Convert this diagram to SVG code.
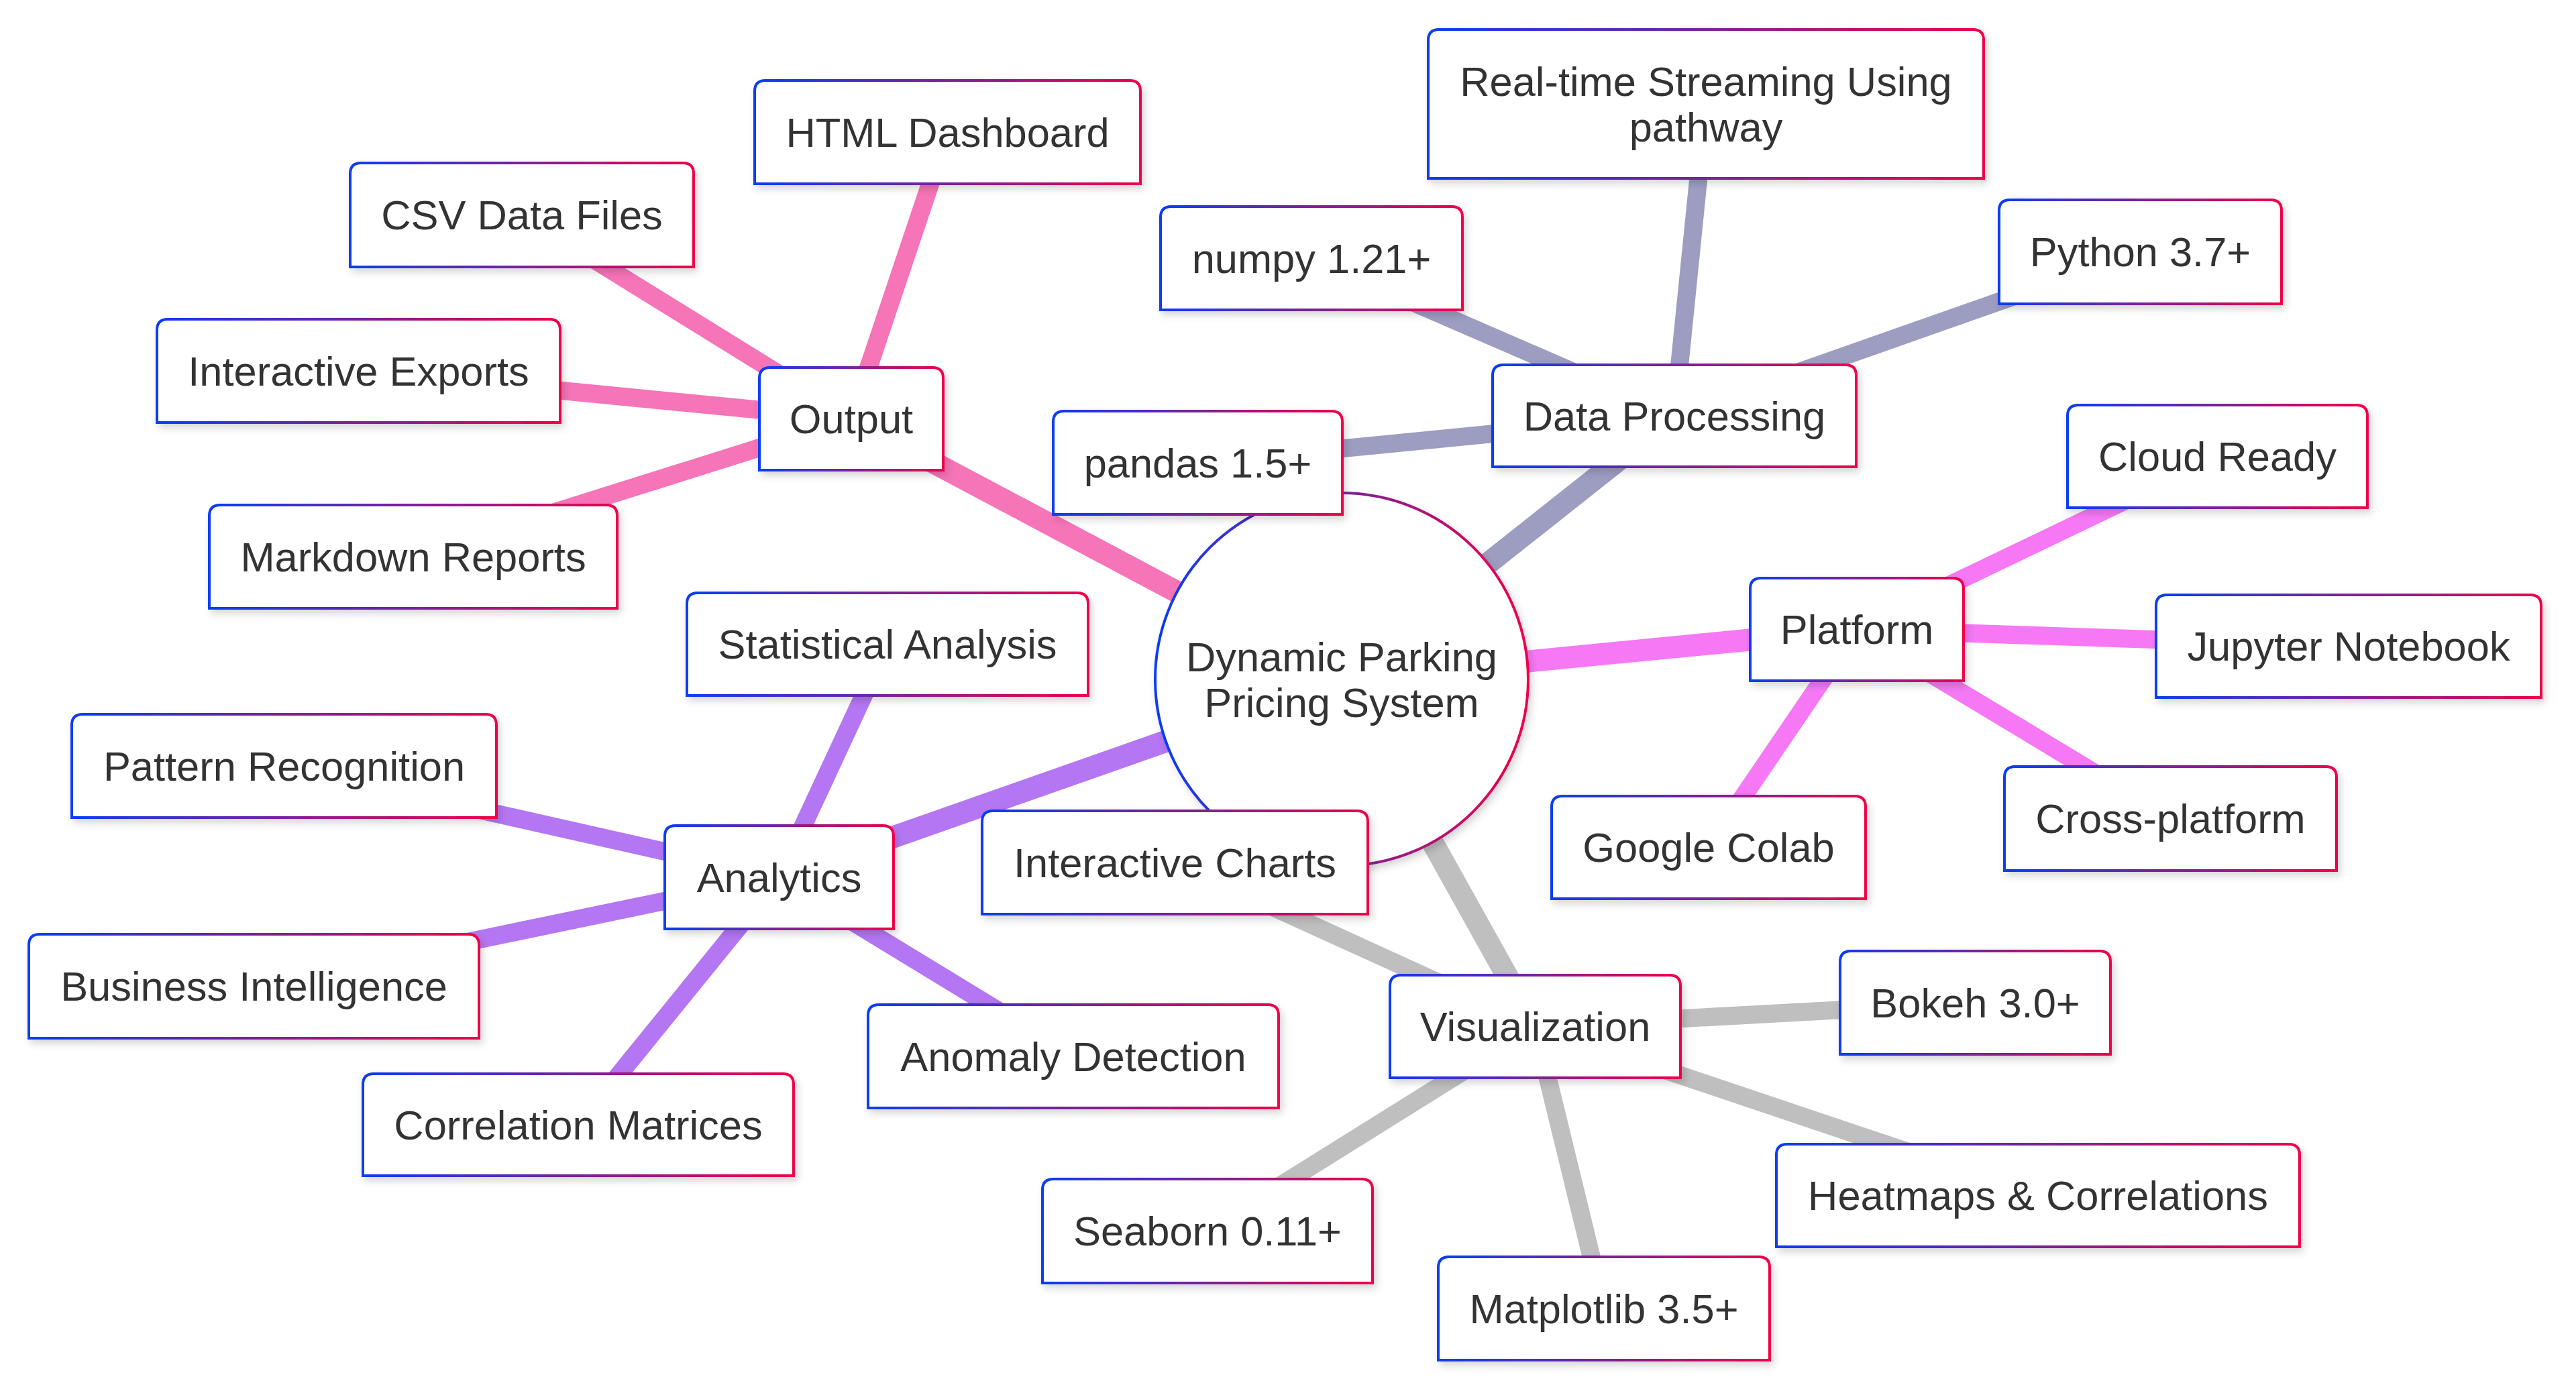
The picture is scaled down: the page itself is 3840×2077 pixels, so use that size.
<svg xmlns="http://www.w3.org/2000/svg" width="3840" height="2077" viewBox="0 0 3840 2077">
<defs>
<linearGradient id="bd" x1="0" y1="0" x2="1" y2="0">
<stop offset="0" stop-color="#0a3cf5"/>
<stop offset="0.5" stop-color="#7a2299"/>
<stop offset="1" stop-color="#f0004a"/>
</linearGradient>
<filter id="sh" x="-10%" y="-15%" width="125%" height="140%">
<feDropShadow dx="4" dy="6" stdDeviation="6" flood-color="#000" flood-opacity="0.16"/>
</filter>
<style>
.n path, .n circle { fill: #fff; stroke: url(#bd); stroke-width: 4; filter: url(#sh); }
.n text { font-family: "Liberation Sans", Arial, sans-serif; font-size: 61.4px; fill: #333; text-anchor: middle; }
.e line { stroke-linecap: butt; fill: none; }
.d0 { stroke-width: 33; }
.d1 { stroke-width: 27; }
.c-out { stroke: #f674b8; }
.c-dp { stroke: #9d9dc2; }
.c-pl { stroke: #f678f5; }
.c-an { stroke: #b476f2; }
.c-vi { stroke: #bfbfbf; }
</style>
</defs>
<rect width="3840" height="2077" fill="#fff"/>
<g id="connectors" class="e">
<line class="d0 c-out" x1="2000" y1="1013" x2="1269" y2="624.5"/>
<line class="d0 c-dp" x1="2000" y1="1013" x2="2496" y2="620"/>
<line class="d0 c-pl" x1="2000" y1="1013" x2="2768" y2="938.5"/>
<line class="d0 c-an" x1="2000" y1="1013" x2="1161.5" y2="1308"/>
<line class="d0 c-vi" x1="2000" y1="1013" x2="2288.5" y2="1530.5"/>
<line class="d1 c-out" x1="1269" y1="624.5" x2="1412.5" y2="197"/>
<line class="d1 c-out" x1="1269" y1="624.5" x2="778" y2="320.5"/>
<line class="d1 c-out" x1="1269" y1="624.5" x2="534.5" y2="553"/>
<line class="d1 c-out" x1="1269" y1="624.5" x2="616" y2="830"/>
<line class="d1 c-dp" x1="2496" y1="620" x2="2543" y2="155"/>
<line class="d1 c-dp" x1="2496" y1="620" x2="1955" y2="385"/>
<line class="d1 c-dp" x1="2496" y1="620" x2="3190.5" y2="375.5"/>
<line class="d1 c-dp" x1="2496" y1="620" x2="1785.5" y2="690"/>
<line class="d1 c-pl" x1="2768" y1="938.5" x2="3305.5" y2="680.5"/>
<line class="d1 c-pl" x1="2768" y1="938.5" x2="3501" y2="963.5"/>
<line class="d1 c-pl" x1="2768" y1="938.5" x2="3235.5" y2="1220.5"/>
<line class="d1 c-pl" x1="2768" y1="938.5" x2="2547" y2="1263.5"/>
<line class="d1 c-an" x1="1161.5" y1="1308" x2="1323" y2="960.5"/>
<line class="d1 c-an" x1="1161.5" y1="1308" x2="423.5" y2="1142"/>
<line class="d1 c-an" x1="1161.5" y1="1308" x2="378.5" y2="1470.5"/>
<line class="d1 c-an" x1="1161.5" y1="1308" x2="862" y2="1677"/>
<line class="d1 c-an" x1="1161.5" y1="1308" x2="1600" y2="1575"/>
<line class="d1 c-vi" x1="2288.5" y1="1530.5" x2="1751.5" y2="1286"/>
<line class="d1 c-vi" x1="2288.5" y1="1530.5" x2="2944.5" y2="1495"/>
<line class="d1 c-vi" x1="2288.5" y1="1530.5" x2="3038" y2="1782.5"/>
<line class="d1 c-vi" x1="2288.5" y1="1530.5" x2="1800" y2="1835.5"/>
<line class="d1 c-vi" x1="2288.5" y1="1530.5" x2="2391" y2="1951"/>
</g>
<g id="root" class="n"><circle cx="2000" cy="1013" r="278"/><text x="2000" y="1001">Dynamic Parking</text><text x="2000" y="1069">Pricing System</text></g>
<g id="output" class="n"><path d="M1132 701 V564 Q1132 548 1148 548 H1390 Q1406 548 1406 564 V701 Z"/><text x="1269" y="646">Output</text></g>
<g id="html-dashboard" class="n"><path d="M1125 274 V136 Q1125 120 1141 120 H1684 Q1700 120 1700 136 V274 Z"/><text x="1412.5" y="219">HTML Dashboard</text></g>
<g id="csv-data-files" class="n"><path d="M522 398 V259 Q522 243 538 243 H1018 Q1034 243 1034 259 V398 Z"/><text x="778" y="342">CSV Data Files</text></g>
<g id="interactive-exports" class="n"><path d="M234 630 V492 Q234 476 250 476 H819 Q835 476 835 492 V630 Z"/><text x="534.5" y="575">Interactive Exports</text></g>
<g id="markdown-reports" class="n"><path d="M312 907 V769 Q312 753 328 753 H904 Q920 753 920 769 V907 Z"/><text x="616" y="852">Markdown Reports</text></g>
<g id="data-processing" class="n"><path d="M2225 696 V560 Q2225 544 2241 544 H2751 Q2767 544 2767 560 V696 Z"/><text x="2496" y="642">Data Processing</text></g>
<g id="realtime-streaming" class="n"><path d="M2129 266 V60 Q2129 44 2145 44 H2941 Q2957 44 2957 60 V266 Z"/><text x="2543" y="143">Real-time Streaming Using</text><text x="2543" y="211">pathway</text></g>
<g id="numpy" class="n"><path d="M1730 462 V324 Q1730 308 1746 308 H2164 Q2180 308 2180 324 V462 Z"/><text x="1955" y="407">numpy 1.21+</text></g>
<g id="python" class="n"><path d="M2980 453 V314 Q2980 298 2996 298 H3385 Q3401 298 3401 314 V453 Z"/><text x="3190.5" y="397">Python 3.7+</text></g>
<g id="pandas" class="n"><path d="M1570 767 V629 Q1570 613 1586 613 H1985 Q2001 613 2001 629 V767 Z"/><text x="1785.5" y="712">pandas 1.5+</text></g>
<g id="platform" class="n"><path d="M2609 1015 V878 Q2609 862 2625 862 H2911 Q2927 862 2927 878 V1015 Z"/><text x="2768" y="960">Platform</text></g>
<g id="cloud-ready" class="n"><path d="M3082 757 V620 Q3082 604 3098 604 H3513 Q3529 604 3529 620 V757 Z"/><text x="3305.5" y="702">Cloud Ready</text></g>
<g id="jupyter-notebook" class="n"><path d="M3214 1040 V903 Q3214 887 3230 887 H3772 Q3788 887 3788 903 V1040 Z"/><text x="3501" y="985">Jupyter Notebook</text></g>
<g id="cross-platform" class="n"><path d="M2988 1298 V1159 Q2988 1143 3004 1143 H3467 Q3483 1143 3483 1159 V1298 Z"/><text x="3235.5" y="1242">Cross-platform</text></g>
<g id="google-colab" class="n"><path d="M2313 1340 V1203 Q2313 1187 2329 1187 H2765 Q2781 1187 2781 1203 V1340 Z"/><text x="2547" y="1285">Google Colab</text></g>
<g id="analytics" class="n"><path d="M991 1385 V1247 Q991 1231 1007 1231 H1316 Q1332 1231 1332 1247 V1385 Z"/><text x="1161.5" y="1330">Analytics</text></g>
<g id="statistical-analysis" class="n"><path d="M1024 1037 V900 Q1024 884 1040 884 H1606 Q1622 884 1622 900 V1037 Z"/><text x="1323" y="982">Statistical Analysis</text></g>
<g id="pattern-recognition" class="n"><path d="M107 1219 V1081 Q107 1065 123 1065 H724 Q740 1065 740 1081 V1219 Z"/><text x="423.5" y="1164">Pattern Recognition</text></g>
<g id="business-intelligence" class="n"><path d="M43 1548 V1409 Q43 1393 59 1393 H698 Q714 1393 714 1409 V1548 Z"/><text x="378.5" y="1492">Business Intelligence</text></g>
<g id="correlation-matrices" class="n"><path d="M541 1753 V1617 Q541 1601 557 1601 H1167 Q1183 1601 1183 1617 V1753 Z"/><text x="862" y="1699">Correlation Matrices</text></g>
<g id="anomaly-detection" class="n"><path d="M1294 1652 V1514 Q1294 1498 1310 1498 H1890 Q1906 1498 1906 1514 V1652 Z"/><text x="1600" y="1597">Anomaly Detection</text></g>
<g id="visualization" class="n"><path d="M2072 1607 V1470 Q2072 1454 2088 1454 H2489 Q2505 1454 2505 1470 V1607 Z"/><text x="2288.5" y="1552">Visualization</text></g>
<g id="interactive-charts" class="n"><path d="M1464 1363 V1225 Q1464 1209 1480 1209 H2023 Q2039 1209 2039 1225 V1363 Z"/><text x="1751.5" y="1308">Interactive Charts</text></g>
<g id="bokeh" class="n"><path d="M2743 1572 V1434 Q2743 1418 2759 1418 H3130 Q3146 1418 3146 1434 V1572 Z"/><text x="2944.5" y="1517">Bokeh 3.0+</text></g>
<g id="heatmaps" class="n"><path d="M2648 1859 V1722 Q2648 1706 2664 1706 H3412 Q3428 1706 3428 1722 V1859 Z"/><text x="3038" y="1804">Heatmaps &amp; Correlations</text></g>
<g id="seaborn" class="n"><path d="M1554 1913 V1774 Q1554 1758 1570 1758 H2030 Q2046 1758 2046 1774 V1913 Z"/><text x="1800" y="1857">Seaborn 0.11+</text></g>
<g id="matplotlib" class="n"><path d="M2144 2028 V1890 Q2144 1874 2160 1874 H2622 Q2638 1874 2638 1890 V2028 Z"/><text x="2391" y="1973">Matplotlib 3.5+</text></g>
</svg>
